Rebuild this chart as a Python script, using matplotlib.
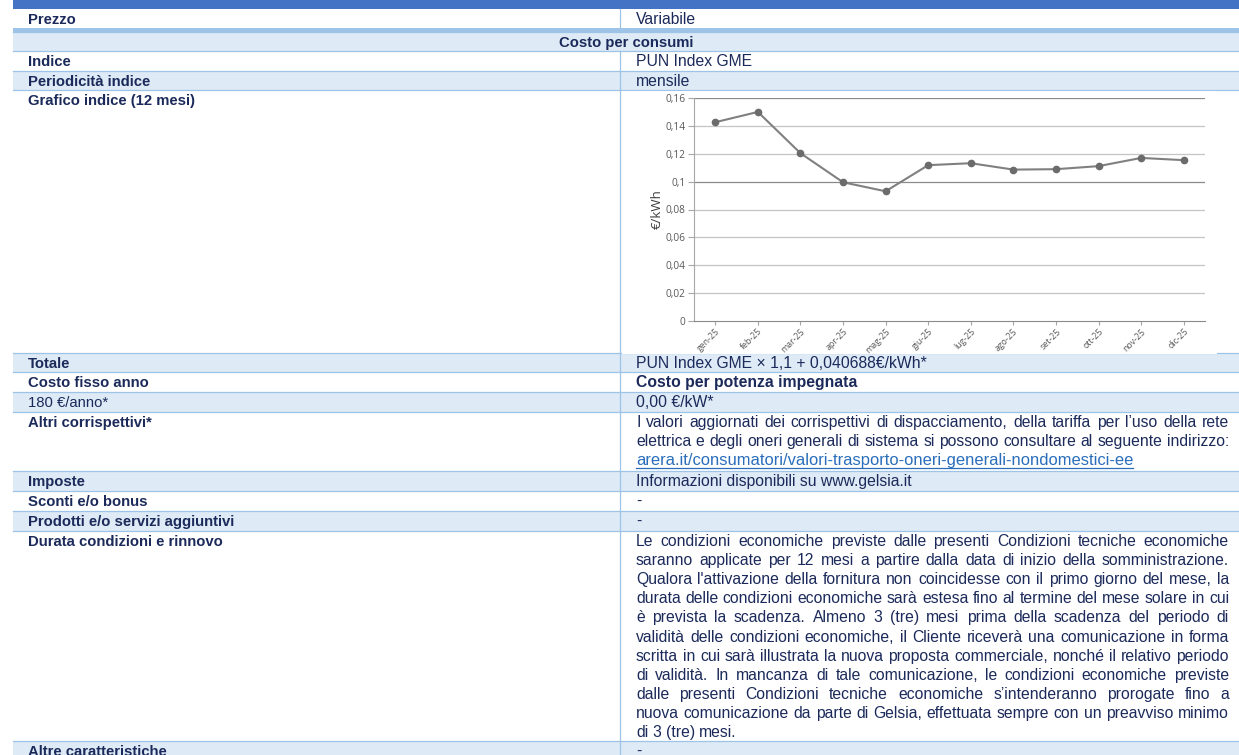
import matplotlib.pyplot as plt
from matplotlib.patches import Rectangle

plt.rcParams['font.family'] = ['Liberation Sans', 'DejaVu Sans']

# --- chart data (PUN Index GME, €/kWh) ---
months = ["gen-25", "feb-25", "mar-25", "apr-25", "mag-25", "giu-25",
          "lug-25", "ago-25", "set-25", "ott-25", "nov-25", "dic-25"]
pun_index = [0.1428, 0.1502, 0.1205, 0.0996, 0.0931, 0.1119,
             0.1133, 0.1087, 0.1090, 0.1112, 0.1171, 0.1155]
y_ticks = [0, 0.02, 0.04, 0.06, 0.08, 0.1, 0.12, 0.14, 0.16]

# --- table text ---
row_labels = ["Prezzo", "Costo per consumi", "Indice", "Periodicità indice",
              "Grafico indice (12 mesi)", "Totale", "Costo fisso anno",
              "180 €/anno*", "Altri corrispettivi*", "Imposte", "Sconti e/o bonus",
              "Prodotti e/o servizi aggiuntivi", "Durata condizioni e rinnovo",
              "Altre caratteristiche"]
row_values = ["Variabile", "", "PUN Index GME", "mensile", "",
              "PUN Index GME × 1,1 + 0,040688€/kWh*", "Costo per potenza impegnata",
              "0,00 €/kW*", "", "Informazioni disponibili su www.gelsia.it",
              "-", "-", "", "-"]
altri_lines = [
    "I valori aggiornati dei corrispettivi di dispacciamento, della tariffa per l’uso della rete",
    "elettrica e degli oneri generali di sistema si possono consultare al seguente indirizzo:",
]
altri_link = "arera.it/consumatori/valori-trasporto-oneri-generali-nondomestici-ee"
durata_lines = [
    "Le condizioni economiche previste dalle presenti Condizioni tecniche economiche",
    "saranno applicate per 12 mesi a partire dalla data di inizio della somministrazione.",
    "Qualora l'attivazione della fornitura non coincidesse con il primo giorno del mese, la",
    "durata delle condizioni economiche sarà estesa fino al termine del mese solare in cui",
    "è prevista la scadenza. Almeno 3 (tre) mesi prima della scadenza del periodo di",
    "validità delle condizioni economiche, il Cliente riceverà una comunicazione in forma",
    "scritta in cui sarà illustrata la nuova proposta commerciale, nonché il relativo periodo",
    "di validità. In mancanza di tale comunicazione, le condizioni economiche previste",
    "dalle presenti Condizioni tecniche economiche s’intenderanno prorogate fino a",
    "nuova comunicazione da parte di Gelsia, effettuata sempre con un preavviso minimo",
    "di 3 (tre) mesi.",
]

# layout (pixels)
W, H = 1239, 755
row_tops = [9, 31.5, 51, 71, 90, 352.5, 372, 392, 412, 471, 491, 511, 531, 741, 761]
TABLE_L, TABLE_R, COL_X = 13, 1239, 620
LEFT_X, RIGHT_X, RIGHT_END = 28, 636, 1229
BASE, LINE = 15, 19.1

NAVY = "#1b2a5a"
LIGHT = "#deeaf6"
BORDER = "#9dc3e6"
BLUE = "#4472c4"
LINK = "#2a6ebb"
REG, BOLD, LINK_SIZE = 11.3, 10.7, 11.9

fig = plt.figure(figsize=(W / 100, H / 100), dpi=100)
ax = fig.add_axes([0, 0, 1, 1])
ax.set_xlim(0, W)
ax.set_ylim(H, 0)
ax.axis('off')
renderer = fig.canvas.get_renderer()

ax.add_patch(Rectangle((TABLE_L, 0), TABLE_R - TABLE_L, 9, color=BLUE, lw=0))

for i in range(len(row_labels)):
    top, bot = row_tops[i], row_tops[i + 1]
    fill = LIGHT if i % 2 else "white"
    ax.add_patch(Rectangle((TABLE_L, top), TABLE_R - TABLE_L, bot - top,
                           facecolor=fill, edgecolor='none', zorder=0))
    ax.plot([TABLE_L, TABLE_R], [bot, bot], color=BORDER, lw=0.9, zorder=1)
    if i != 1:
        ax.plot([COL_X, COL_X], [top, bot], color=BORDER, lw=0.9, zorder=1)
    y = top + BASE
    if i == 1:
        ax.text((TABLE_L + TABLE_R) / 2, y, row_labels[i], ha='center', va='baseline',
                fontsize=BOLD, fontweight='bold', color=NAVY)
        continue
    weight = 'normal' if row_labels[i].startswith("180") else 'bold'
    ax.text(LEFT_X, y, row_labels[i], va='baseline', fontsize=BOLD,
            fontweight=weight, color=NAVY)
    if row_values[i]:
        vweight = 'bold' if row_values[i].startswith("Costo") else 'normal'
        ax.text(RIGHT_X, y, row_values[i], va='baseline', fontsize=REG,
                fontweight=vweight, color=NAVY)

# thicker border under "Prezzo"
ax.add_patch(Rectangle((TABLE_L, 28), TABLE_R - TABLE_L, 3.5, color=BORDER, lw=0, zorder=1))

# chart picture background covers the cell borders
ax.add_patch(Rectangle((622, 90.5), 1217 - 622, 263, facecolor='white',
                       edgecolor='none', zorder=2))


def text_width(s, size):
    t = ax.text(0, 0, s, fontsize=size)
    w = t.get_window_extent(renderer).width
    t.remove()
    return w


def justified(lines, y0, size, justify_last=False):
    space = text_width("a a", size) - text_width("aa", size)
    for k, line in enumerate(lines):
        y = y0 + k * LINE
        words = line.split(" ")
        widths = [text_width(w, size) for w in words]
        last = k == len(lines) - 1
        if len(words) > 1 and (not last or justify_last):
            gap = (RIGHT_END - RIGHT_X - sum(widths)) / (len(words) - 1)
        else:
            gap = space
        x = RIGHT_X
        for w, wd in zip(words, widths):
            ax.text(x, y, w, va='baseline', fontsize=size, color=NAVY, zorder=3)
            x += wd + gap


justified(altri_lines, row_tops[8] + BASE, REG, justify_last=True)
ly = row_tops[8] + BASE + 2 * LINE
ax.text(RIGHT_X, ly, altri_link, va='baseline', fontsize=LINK_SIZE, color=LINK, zorder=3)
ax.plot([RIGHT_X, RIGHT_X + text_width(altri_link, LINK_SIZE)], [ly + 2.5, ly + 2.5],
        color=LINK, lw=0.9, zorder=3)
justified(durata_lines, row_tops[12] + BASE, REG)

# --- embedded chart ---
cax = fig.add_axes([694 / W, 1 - 320.7 / H, 511 / W, 222.4 / H])
cax.set_facecolor('white')
cax.plot(range(len(months)), pun_index, color="#808080", lw=1.5, marker='o', ms=4.5,
         mfc="#6b6b6b", mec="#6b6b6b", zorder=3)
cax.set_xlim(-0.5, len(months) - 0.5)
cax.set_ylim(0, 0.16)
for v in y_ticks[1:]:
    dark = v in (0.1, 0.16)
    cax.axhline(v, color="#8a8a8a" if dark else "#c4c4c4", lw=0.9, zorder=1)
for s in ('top', 'right'):
    cax.spines[s].set_visible(False)
cax.spines['left'].set_color("#a6a6a6")
cax.spines['bottom'].set_color("#8a8a8a")
cax.set_yticks(y_ticks)
cax.set_yticklabels([f"{v:.2f}".rstrip('0').rstrip('.').replace('.', ',') for v in y_ticks],
                    family='Open Sans')
cax.set_xticks(range(len(months)))
cax.set_xticklabels(months, rotation=45, ha='right', rotation_mode='anchor', family='Open Sans')
cax.tick_params(axis='y', length=4, color="#a6a6a6", labelsize=7.3, labelcolor="#595959", pad=2)
cax.tick_params(axis='x', length=3, color="#a6a6a6", labelsize=6.3, labelcolor="#595959", pad=1.5)
cax.text(-0.072, 0.5, "€/kWh", rotation=90, ha='center', va='center', transform=cax.transAxes,
         fontsize=9.5, color="#404040", family='Open Sans')

fig.savefig("out.png", dpi=100)
